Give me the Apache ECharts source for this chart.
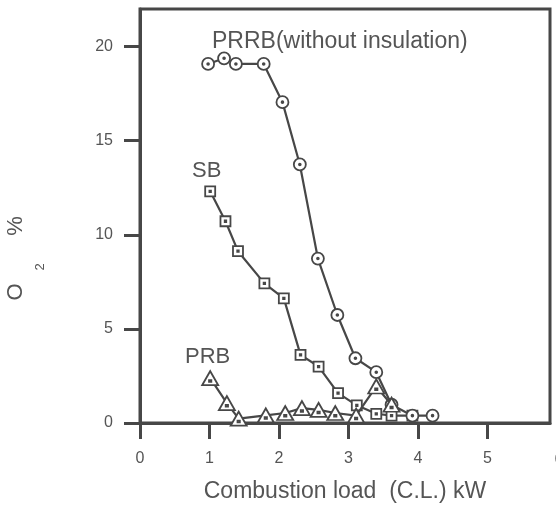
<!DOCTYPE html>
<html>
<head>
<meta charset="utf-8">
<script src="https://cdn.jsdelivr.net/npm/echarts@6/dist/echarts.min.js"></script>
<style>
  html, body { margin: 0; padding: 0; background: #fff; }
  #main { width: 556px; height: 508px; }
</style>
</head>
<body>
<div id="main"></div>
<script>
// values
var prrbX = [0.98, 1.21, 1.38, 1.78, 2.05, 2.30, 2.56, 2.84, 3.10, 3.40, 3.62, 3.92, 4.21];
var prrbY = [19.08, 19.38, 19.08, 19.08, 17.05, 13.74, 8.74, 5.74, 3.44, 2.70, 0.97, 0.39, 0.39];

var sbX = [1.01, 1.23, 1.41, 1.79, 2.07, 2.31, 2.57, 2.85, 3.12, 3.40, 3.62, 3.92];
var sbY = [12.31, 10.72, 9.13, 7.42, 6.62, 3.62, 3.00, 1.59, 0.94, 0.49, 0.39, 0.39];

var prbX = [1.01, 1.25, 1.42, 1.81, 2.09, 2.33, 2.57, 2.81, 3.11, 3.40, 3.62];
var prbY = [2.38, 1.06, 0.23, 0.41, 0.53, 0.79, 0.70, 0.53, 0.39, 1.94, 0.97];

var xTicks = [0, 1, 2, 3, 4, 5];
var yTicks = [0, 5, 10, 15, 20];

var ink = '#474747';
var txt = '#555';
var font = 'Liberation Sans, Arial, sans-serif';

function pairs(xs, ys) {
  return xs.map(function (x, i) { return [x, ys[i]]; });
}

// marker shapes with a small dot in the middle
var circleDot = 'path://M0,-10A10,10 0 1,1 0,10A10,10 0 1,1 0,-10ZM0,-1.5A1.5,1.5 0 1,1 0,1.5A1.5,1.5 0 1,1 0,-1.5Z';
var squareDot = 'path://M-10,-10L10,-10L10,10L-10,10ZM-1.5,-1.5L1.5,-1.5L1.5,1.5L-1.5,1.5Z';
var triDot = 'path://M0,-11L11,8L-11,8ZM-1.5,1L1.5,1L1.5,3.5L-1.5,3.5Z';

function line(name, xs, ys, sym, size, z) {
  return {
    name: name,
    type: 'line',
    data: pairs(xs, ys),
    symbol: sym,
    symbolSize: size,
    z: z,
    lineStyle: { color: ink, width: 2.2 },
    itemStyle: { color: '#fff', borderColor: ink, borderWidth: 1.8 },
    emphasis: { disabled: true },
    animation: false
  };
}

var chart = echarts.init(document.getElementById('main'));

chart.setOption({
  backgroundColor: '#fff',
  grid: {
    left: 140, right: 6, top: 9, bottom: 83,
    show: true, borderColor: ink, borderWidth: 3
  },
  xAxis: {
    type: 'value',
    min: 0, max: 5.9,
    name: 'Combustion load  (C.L.) kW',
    nameLocation: 'middle',
    nameGap: 57,
    nameTextStyle: { fontFamily: font, fontSize: 23, color: txt },
    axisLine: { show: true, lineStyle: { color: ink, width: 3 } },
    axisTick: { show: true, inside: false, length: 16, customValues: xTicks, lineStyle: { color: ink, width: 3 } },
    axisLabel: { margin: 28, fontFamily: font, fontSize: 16, color: txt, customValues: xTicks },
    splitLine: { show: false }
  },
  yAxis: {
    type: 'value',
    min: 0, max: 22,
    axisLine: { show: true, lineStyle: { color: ink, width: 3 } },
    axisTick: { show: true, inside: false, length: 16, customValues: yTicks, lineStyle: { color: ink, width: 3 } },
    axisLabel: { margin: 27, fontFamily: font, fontSize: 16, color: txt, customValues: yTicks },
    splitLine: { show: false }
  },
  graphic: [
    { type: 'text', left: 212, top: 30, style: { text: 'PRRB(without insulation)', font: '23px ' + font, fill: txt } },
    { type: 'text', left: 192, top: 160, style: { text: 'SB', font: '22px ' + font, fill: txt } },
    { type: 'text', left: 185, top: 346, style: { text: 'PRB', font: '22px ' + font, fill: txt } },
    { type: 'text', x: 16, y: 292, rotation: Math.PI / 2, style: { text: 'O', font: '22px ' + font, fill: txt, align: 'center', verticalAlign: 'middle' } },
    { type: 'text', x: 40, y: 267, rotation: Math.PI / 2, style: { text: '2', font: '13px ' + font, fill: txt, align: 'center', verticalAlign: 'middle' } },
    { type: 'text', x: 16, y: 226, rotation: Math.PI / 2, style: { text: '%', font: '22px ' + font, fill: txt, align: 'center', verticalAlign: 'middle' } },
    { type: 'text', x: 559, y: 460, style: { text: '6', font: '16px ' + font, fill: txt, align: 'center', verticalAlign: 'middle' } }
  ],
  series: [
    line('PRRB', prrbX, prrbY, circleDot, 12, 3),
    line('SB', sbX, sbY, squareDot, 10, 2),
    line('PRB', prbX, prbY, triDot, [16, 14], 4)
  ]
});
</script>
</body>
</html>
